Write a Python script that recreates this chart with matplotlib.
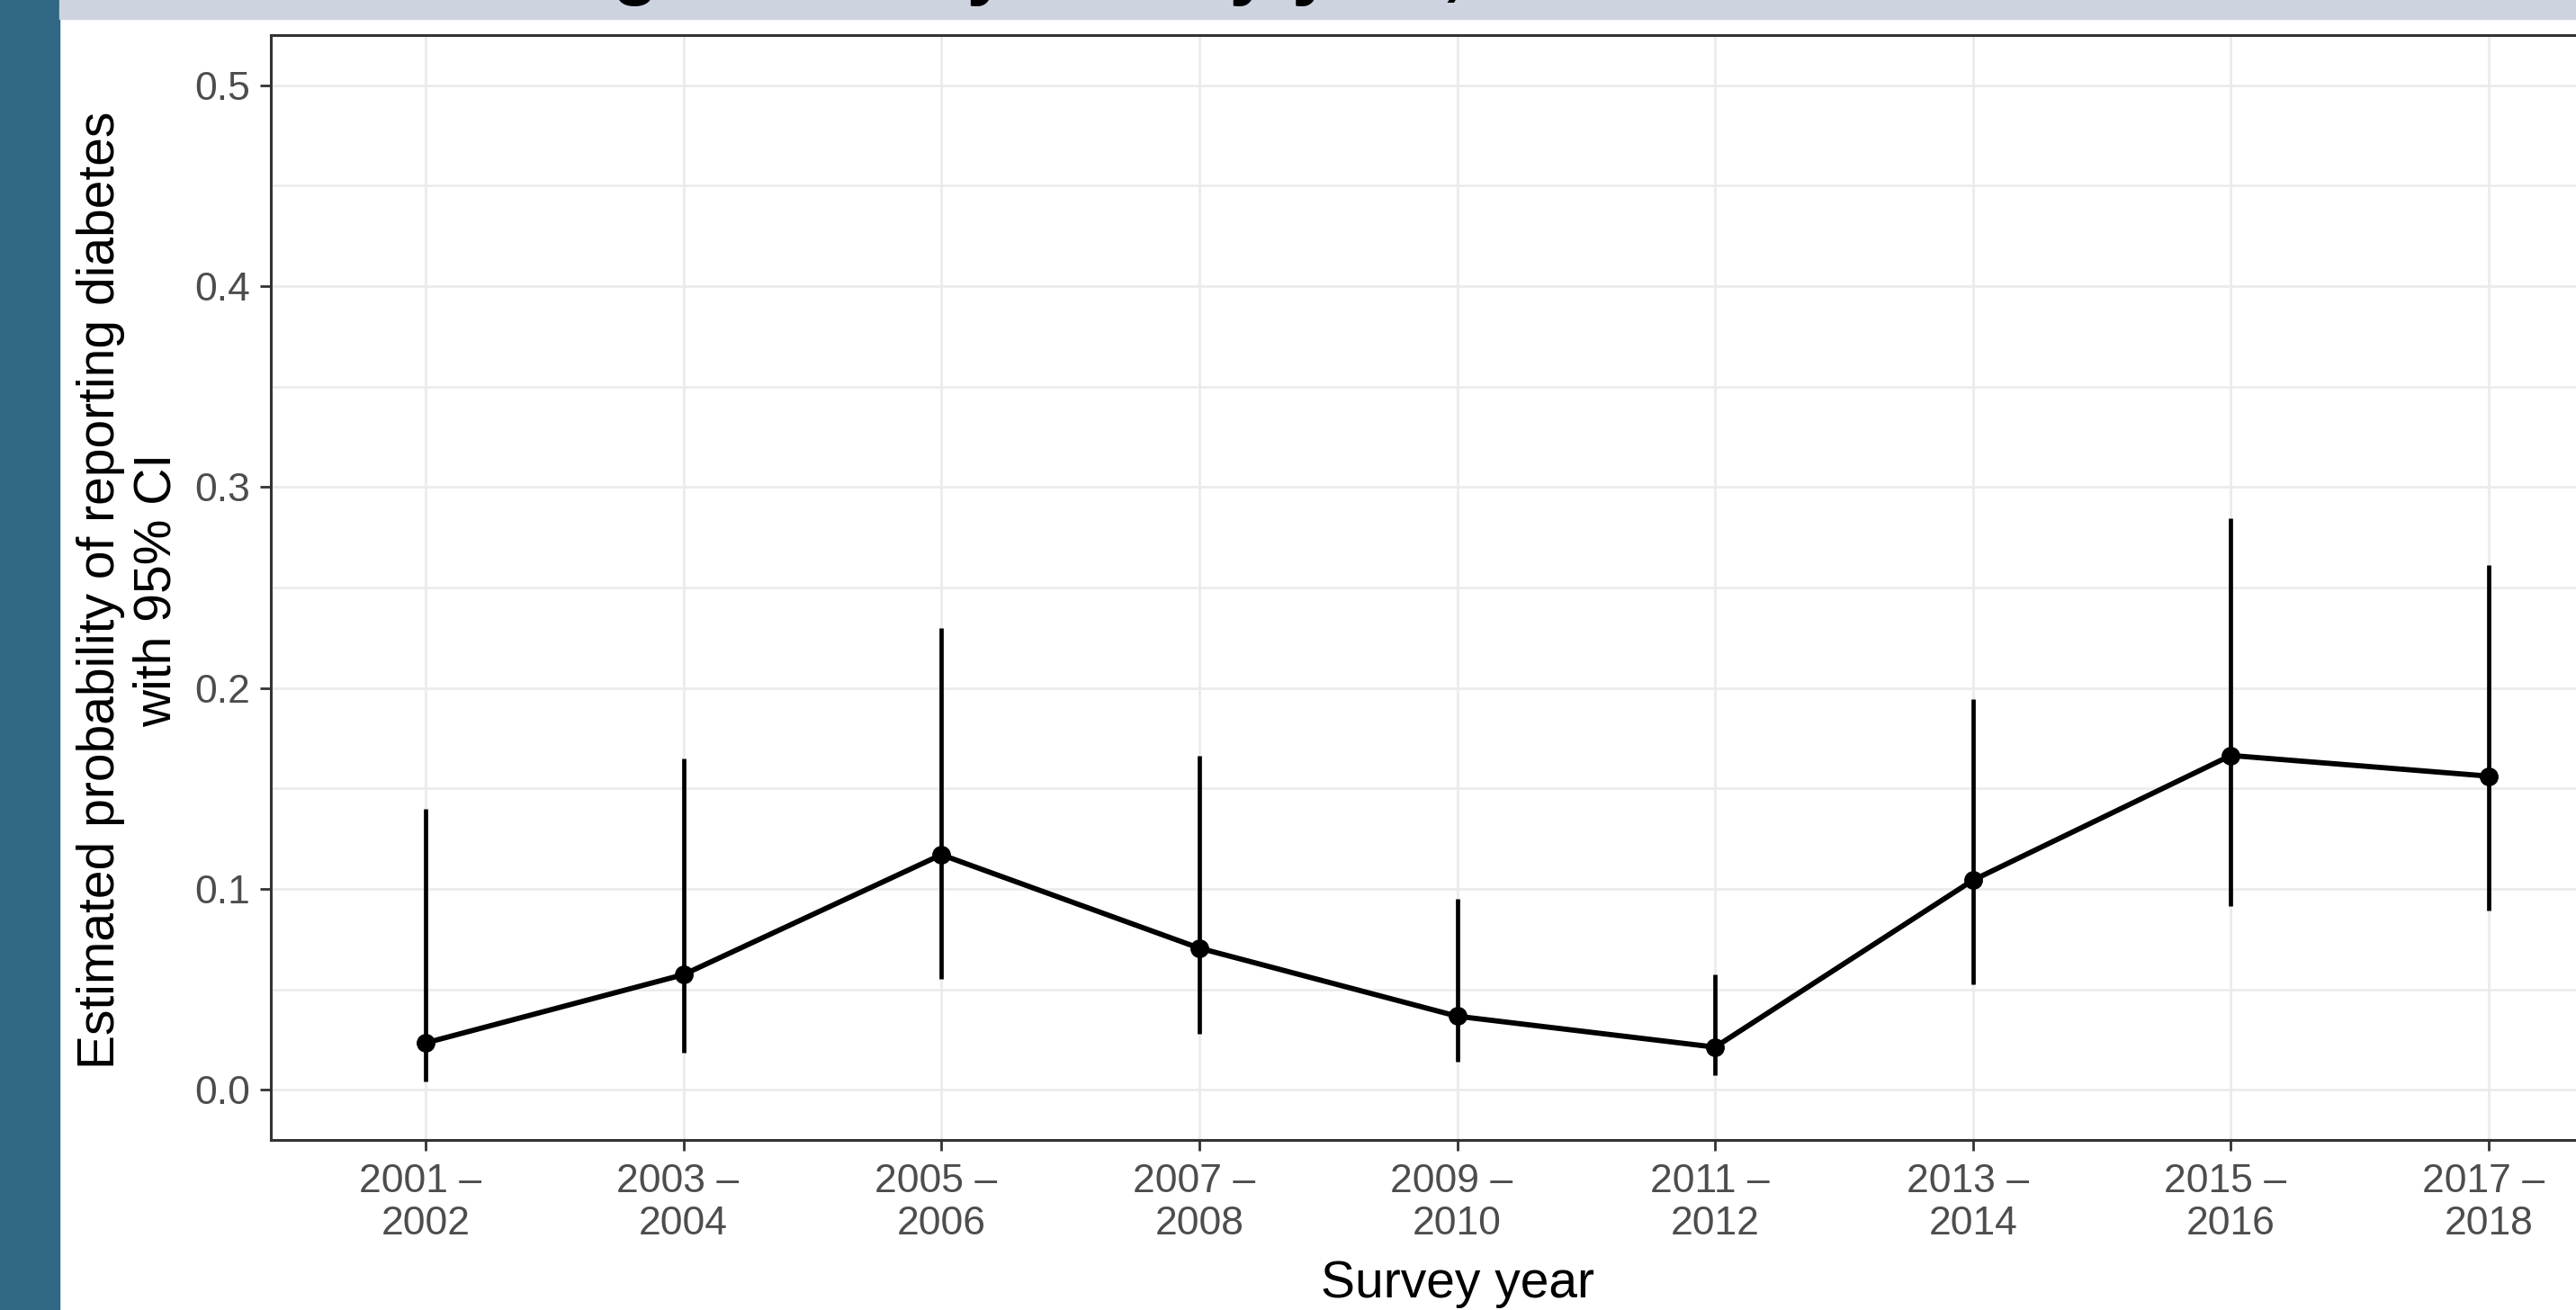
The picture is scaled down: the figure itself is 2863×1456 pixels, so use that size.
import matplotlib
matplotlib.use("Agg")
import matplotlib.pyplot as plt
from matplotlib.patches import Rectangle

plt.rcParams["font.family"] = ["Liberation Sans", "DejaVu Sans"]

# survey cycles and estimates
cycles = ["2001 – \n2002", "2003 – \n2004", "2005 – \n2006", "2007 – \n2008",
          "2009 – \n2010", "2011 – \n2012", "2013 – \n2014", "2015 – \n2016",
          "2017 – \n2018"]
estimate = [0.0233, 0.0573, 0.1170, 0.0705, 0.0366, 0.0212, 0.1043, 0.1664, 0.1561]
ci_low = [0.0042, 0.0184, 0.0552, 0.0280, 0.0139, 0.0072, 0.0525, 0.0914, 0.0890]
ci_high = [0.1397, 0.1648, 0.2299, 0.1663, 0.0949, 0.0574, 0.1946, 0.2843, 0.2610]
y_ticks = [0.0, 0.1, 0.2, 0.3, 0.4, 0.5]
y_minor = [0.05, 0.15, 0.25, 0.35, 0.45]

W, H = 2863, 1456
fig = plt.figure(figsize=(W / 100, H / 100), dpi=100, facecolor="white")

# slide decoration: blue side strip and grey title bar (title mostly cut off)
fig.add_artist(Rectangle((0, 0), 66 / W, 1, transform=fig.transFigure,
                         color="#2F6785", zorder=0))
fig.add_artist(Rectangle((66 / W, 1 - 21 / H), 1, 21 / H, transform=fig.transFigure,
                         color="#CED3E0", zorder=0))
fig.text(88 / W, 1 + 10 / H, "Diabetes among adults by survey year, NHANES 2001–2018",
         fontsize=60, fontweight="bold", va="baseline", ha="left", color="black")

# panel runs past the right edge, as in the reference
ax = fig.add_axes([301 / W, (H - 1267) / H, 2637 / W, 1228 / H])
xs = list(range(len(cycles)))

ax.vlines(xs, ci_low, ci_high, color="black", lw=3.4, zorder=3)
ax.plot(xs, estimate, color="black", lw=4.2, marker="o", ms=14, zorder=4)

ax.set_xlim(-0.6, len(cycles) - 0.4)
ax.set_ylim(-0.025, 0.525)
ax.set_xticks(xs)
ax.set_xticklabels(cycles, linespacing=1.2)
ax.set_yticks(y_ticks)
ax.set_yticklabels([f"{v:.1f}" for v in y_ticks])
ax.set_yticks(y_minor, minor=True)

ax.grid(True, which="major", color="#EBEBEB", lw=2.0, zorder=0)
ax.grid(True, which="minor", axis="y", color="#EBEBEB", lw=1.8, zorder=0)
ax.set_axisbelow(True)
ax.tick_params(axis="both", which="major", length=8.5, width=2.0, color="#333333",
               labelsize=32, labelcolor="#4D4D4D")
ax.tick_params(axis="x", pad=10)
ax.tick_params(axis="y", pad=8)
ax.tick_params(which="minor", length=0)
for s in ax.spines.values():
    s.set_color("#333333")
    s.set_linewidth(2.2)

fig.text(143 / W, 1 - 656 / H,
         "Estimated probability of reporting diabetes\nwith 95% CI",
         rotation=90, ha="center", va="center", multialignment="center",
         fontsize=41, color="black", linespacing=1.2)
fig.text(1620 / W, 1 - 1442 / H, "Survey year", ha="center", va="baseline",
         fontsize=41, color="black")

fig.savefig("out.png", dpi=100, facecolor="white")
